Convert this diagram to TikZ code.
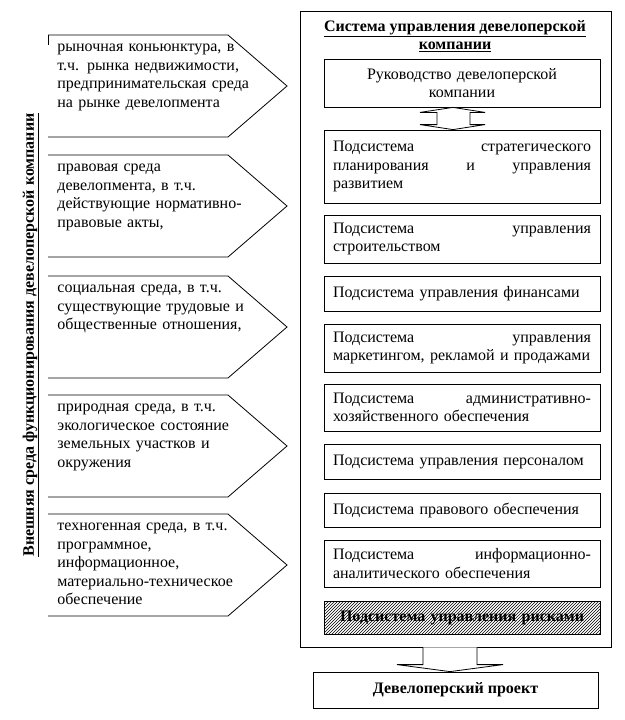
\documentclass[tikz,border=0pt]{standalone}
\usepackage{fontspec}
\setmainfont{Liberation Serif}
\usetikzlibrary{calc,patterns}

\begin{document}
\begin{tikzpicture}[x=1pt,y=-1pt,line width=0.8pt,font=\fontsize{16}{18.4}\selectfont]
    \useasboundingbox (0,0) rectangle (624,720);
    \tikzset{
      envtext/.style={anchor=north west,inner sep=0pt,text width=210pt,align=left},
      subbox/.style={draw,fill=white,text width=258pt,inner xsep=9pt,inner ysep=0pt,align=left},
      boldtext/.style={font=\fontsize{16}{18.4}\selectfont\bfseries}
    }
    % external environment
    \node (ext) [boldtext,rotate=90] at (31,335) {\underline{Внешняя среда функционирования девелоперской компании}};
    \foreach \t in {35,155,276,395,514}
      \draw (48,\t) -- (228,\t) -- (287,\t+51) -- (228,\t+102) -- (48,\t+102);
    \draw (48,35) -- (48,45);
    \node (env1) [envtext] at (57,44) {рыночная коньюнктура, в\\т.ч. рынка недвижимости,\\предпринимательская среда\\на рынке девелопмента};
    \node (env2) [envtext] at (57,164) {правовая среда\\девелопмента, в т.ч.\\действующие нормативно-\\правовые акты,};
    \node (env3) [envtext] at (57,285) {социальная среда, в т.ч.\\существующие трудовые и\\общественные отношения,};
    \node (env4) [envtext] at (57,404) {природная среда, в т.ч.\\экологическое состояние\\земельных участков и\\окружения};
    \node (env5) [envtext] at (57,523) {техногенная среда, в т.ч.\\программное,\\информационное,\\материально-техническое\\обеспечение};
    % management system
    \node (sys) [draw,minimum width=311pt,minimum height=636pt] at (455.5,329) {};
    \node (title) [boldtext,align=center] at (455,36) {\underline{Система управления девелоперской}\\\underline{компании}};
    \node (ruk) [subbox,align=center,minimum height=48pt] at (462,83) {Руководство девелоперской\\компании};
    \node (s1) [subbox,minimum height=73pt] at (462,166.5) {Подсистема \hfill стратегического\\планирования \hfill и \hfill управления\\развитием};
    \node (s2) [subbox,minimum height=48pt] at (462,239) {Подсистема \hfill управления\\строительством};
    \node (s3) [subbox,minimum height=35pt] at (462,293.5) {Подсистема управления финансами};
    \node (s4) [subbox,minimum height=48pt] at (462,348) {Подсистема \hfill управления\\маркетингом, рекламой и продажами};
    \node (s5) [subbox,minimum height=47pt] at (462,407.5) {Подсистема \hfill административно-\\хозяйственного обеспечения};
    \node (s6) [subbox,minimum height=35pt] at (462,461.5) {Подсистема управления персоналом};
    \node (s7) [subbox,minimum height=34pt] at (462,510) {Подсистема правового обеспечения};
    \node (s8) [subbox,minimum height=47pt] at (462,563.5) {Подсистема \hfill информационно-\\аналитического обеспечения};
    \node (s9) [subbox,pattern=north east lines,boldtext,align=center,minimum height=33pt] at (462,617.5) {Подсистема управления рисками};
    % two-way arrow
    \coordinate (ua) at ($(ruk.south)+(-9,0)$);
    \coordinate (ub) at ($(s1.north)+(-9,0)$);
    \draw[fill=white] (ua) -- ($(ua)+(32,5)$) -- ($(ua)+(17,5)$) -- ($(ub)+(17,-5)$) -- ($(ub)+(32,-5)$) -- (ub)
      -- ($(ub)+(-33,-5)$) -- ($(ub)+(-16,-5)$) -- ($(ua)+(-16,5)$) -- ($(ua)+(-33,5)$) -- cycle;
    % result
    \node (proj) [draw,boldtext,minimum width=285pt,minimum height=36pt] at (455.5,690) {Девелоперский проект};
    \coordinate (da) at ($(sys.south)+(-5.5,0)$);
    \coordinate (db) at ($(proj.north)+(-5.5,0)$);
    \draw[fill=white] ($(da)+(-27,0)$) -- ($(db)+(-27,-7)$) -- ($(db)+(-53,-7)$) -- (db)
      -- ($(db)+(53,-7)$) -- ($(db)+(27,-7)$) -- ($(da)+(27,0)$);
\end{tikzpicture}
\end{document}
